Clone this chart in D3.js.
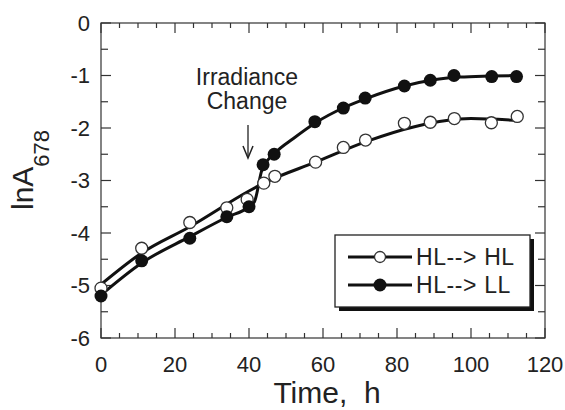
<!DOCTYPE html>
<html>
<head>
<meta charset="utf-8">
<script src="https://cdn.jsdelivr.net/npm/d3@7"></script>
<style>
  body { margin: 0; background: #fff; }
  text { font-family: Arial, "Liberation Sans", Helvetica, sans-serif; fill: #222; }
</style>
</head>
<body>
<svg id="chart" width="565" height="410"></svg>
<script>
// measured points, HL --> HL (open circles)
const hlTimes = [0, 11, 24, 34, 39.5, 44, 47, 58, 65.5, 71.5, 82, 89, 95.5, 105.5, 112.5];
const hlValues = [-5.05, -4.29, -3.8, -3.52, -3.36, -3.05, -2.92, -2.65, -2.37, -2.23, -1.91, -1.89, -1.82, -1.9, -1.78];

// measured points, HL --> LL (filled circles)
const llTimes = [0, 11, 24, 34, 40, 43.8, 46.8, 57.8, 65.5, 71.4, 82, 89, 95.4, 105.6, 112.3];
const llValues = [-5.2, -4.53, -4.1, -3.69, -3.5, -2.7, -2.5, -1.88, -1.62, -1.43, -1.2, -1.09, -1.0, -1.02, -1.02];

// fitted curves
const hlFitTimes = [0, 11, 24, 40, 44, 58, 72, 85, 100, 113];
const hlFitValues = [-4.98, -4.38, -3.88, -3.2, -3.05, -2.65, -2.25, -1.97, -1.82, -1.86];
const llFitTimes = [0, 11, 24, 34, 40, 41.5, 43.5, 47, 52, 58, 66, 72, 82, 90, 97, 105, 113];
const llFitValues = [-5.18, -4.57, -4.07, -3.7, -3.5, -3.4, -2.8, -2.48, -2.2, -1.9, -1.6, -1.43, -1.2, -1.08, -1.03, -1.01, -1.0];

const xTicks = [0, 20, 40, 60, 80, 100, 120];
const yTicks = [0, -1, -2, -3, -4, -5, -6];
const legendLabels = ["HL--> HL", "HL--> LL"];

const svg = d3.select("#chart");
const x = d3.scaleLinear().domain([0, 120]).range([101, 545]);
const y = d3.scaleLinear().domain([-6, 0]).range([338, 23]);

// frame
svg.append("rect")
    .attr("x", x(0)).attr("y", y(0))
    .attr("width", x(120) - x(0)).attr("height", y(-6) - y(0))
    .attr("fill", "none").attr("stroke", "#333").attr("stroke-width", 1.2);

// ticks, inward on all sides
const majorLen = 10, minorLen = 5;
const xMinor = d3.range(0, 121, 5);
const yMinor = d3.range(-6, 0.01, 0.5);
const tickG = svg.append("g").attr("stroke", "#333").attr("stroke-width", 1.2);

xMinor.forEach(t => {
    const len = t % 20 === 0 ? majorLen : minorLen;
    tickG.append("line").attr("x1", x(t)).attr("x2", x(t)).attr("y1", y(-6)).attr("y2", y(-6) - len);
    tickG.append("line").attr("x1", x(t)).attr("x2", x(t)).attr("y1", y(0)).attr("y2", y(0) + len);
});
yMinor.forEach(v => {
    const len = Number.isInteger(v) ? majorLen : minorLen + 2;
    tickG.append("line").attr("y1", y(v)).attr("y2", y(v)).attr("x1", x(0)).attr("x2", x(0) + len);
    tickG.append("line").attr("y1", y(v)).attr("y2", y(v)).attr("x1", x(120)).attr("x2", x(120) - len);
});

// tick labels
svg.append("g").selectAll("text")
    .data(xTicks).join("text")
    .attr("x", d => x(d)).attr("y", 372)
    .attr("text-anchor", "middle")
    .style("font-size", "22px")
    .text(d => d);

svg.append("g").selectAll("text")
    .data(yTicks).join("text")
    .attr("x", 90).attr("y", d => y(d))
    .attr("dy", "0.35em")
    .attr("text-anchor", "end")
    .style("font-size", "22px")
    .text(d => d);

// axis titles
svg.append("text")
    .attr("x", 327).attr("y", 403)
    .attr("text-anchor", "middle")
    .style("font-size", "30px")
    .style("white-space", "pre")
    .text("Time,  h");

const yTitle = svg.append("text")
    .attr("transform", "translate(33,170) rotate(-90)")
    .attr("text-anchor", "middle")
    .style("font-size", "30px");
yTitle.append("tspan").text("lnA");
yTitle.append("tspan").attr("dy", 16).style("font-size", "22px").text("678");

// fitted lines
const line = d3.line()
    .x(d => x(d[0])).y(d => y(d[1]))
    .curve(d3.curveMonotoneX);

svg.append("path")
    .datum(d3.zip(hlFitTimes, hlFitValues))
    .attr("d", line)
    .attr("fill", "none").attr("stroke", "#111").attr("stroke-width", 3);

svg.append("path")
    .datum(d3.zip(llFitTimes, llFitValues))
    .attr("d", line)
    .attr("fill", "none").attr("stroke", "#111").attr("stroke-width", 3);

// markers
svg.append("g").selectAll("circle")
    .data(d3.zip(hlTimes, hlValues)).join("circle")
    .attr("cx", d => x(d[0])).attr("cy", d => y(d[1]))
    .attr("r", 6)
    .attr("fill", "#fff").attr("stroke", "#333").attr("stroke-width", 1.3);

svg.append("g").selectAll("circle")
    .data(d3.zip(llTimes, llValues)).join("circle")
    .attr("cx", d => x(d[0])).attr("cy", d => y(d[1]))
    .attr("r", 6.5)
    .attr("fill", "#111");

// annotation
svg.append("text")
    .attr("x", 247).attr("y", 85)
    .attr("text-anchor", "middle")
    .style("font-size", "23px")
    .text("Irradiance");
svg.append("text")
    .attr("x", 247).attr("y", 109)
    .attr("text-anchor", "middle")
    .style("font-size", "23px")
    .text("Change");
svg.append("line")
    .attr("x1", 248).attr("x2", 248).attr("y1", 125).attr("y2", 156)
    .attr("stroke", "#222").attr("stroke-width", 1.3);
svg.append("path")
    .attr("d", "M243,146 L248,158 L253,146")
    .attr("fill", "none").attr("stroke", "#222").attr("stroke-width", 1.5);

// legend with drop shadow
const lg = svg.append("g");
lg.append("rect")
    .attr("x", 339).attr("y", 239).attr("width", 195).attr("height", 72)
    .attr("fill", "#111");
lg.append("rect")
    .attr("x", 335).attr("y", 235).attr("width", 195).attr("height", 72)
    .attr("fill", "#fff").attr("stroke", "#222").attr("stroke-width", 1.3);

legendLabels.forEach((label, i) => {
    const ly = 257 + i * 28;
    lg.append("line")
        .attr("x1", 348).attr("x2", 412).attr("y1", ly).attr("y2", ly)
        .attr("stroke", "#111").attr("stroke-width", 3);
    lg.append("circle")
        .attr("cx", 380).attr("cy", ly).attr("r", i === 0 ? 5.5 : 6.5)
        .attr("fill", i === 0 ? "#fff" : "#111")
        .attr("stroke", i === 0 ? "#333" : "none").attr("stroke-width", 1.3);
    lg.append("text")
        .attr("x", 416).attr("y", ly).attr("dy", "0.36em")
        .style("font-size", "23px")
        .style("letter-spacing", "0.6px")
        .text(label);
});
</script>
</body>
</html>
